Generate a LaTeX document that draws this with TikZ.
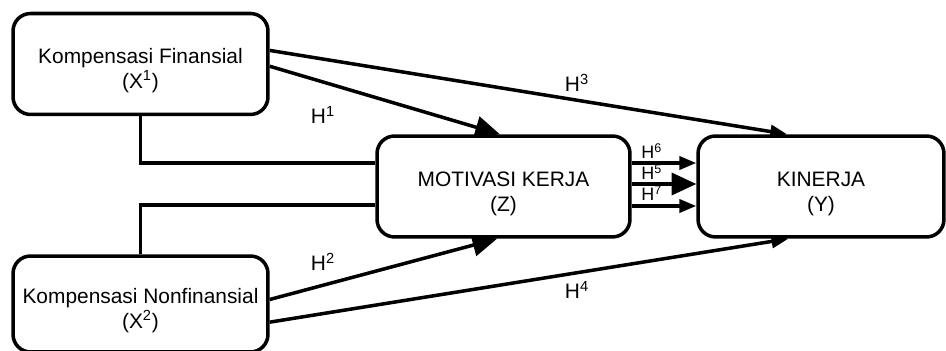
\documentclass[tikz,border=0pt]{standalone}
\usepackage{fontspec}
\setmainfont{Liberation Sans}
\usetikzlibrary{arrows.meta}
\pgfdeclarelayer{bg}
\pgfsetlayers{bg,main}

\tikzset{
  var/.style={draw, line width=2pt, rounded corners=10pt, fill=white, align=center,
    inner sep=0pt, font=\fontsize{11.9}{14.2}\selectfont,
    execute at begin node={\rule{0pt}{1.07cm}}},
  link/.style={line width=2pt, -{Triangle[length=9.6pt,width=7.4pt]}},
  biglink/.style={line width=2pt, -{Triangle[length=14pt,width=12.5pt]}},
  plain/.style={line width=2pt},
  hyp/.style={inner sep=0pt, font=\fontsize{11.9}{14}\selectfont},
  hypsmall/.style={inner sep=0pt, anchor=base west, font=\fontsize{10.2}{12}\selectfont}
}

\begin{document}
\begin{tikzpicture}[x=0.02cm,y=-0.02cm]
\useasboundingbox (0,0) rectangle (946,351);
% variables
\node[var, minimum width=5.1cm, minimum height=2.02cm] (X1) at (140.5,64) {Kompensasi Finansial\\(X\textsuperscript{1})};
\node[var, minimum width=5.1cm, minimum height=1.92cm] (X2) at (140.5,304) {Kompensasi Nonfinansial\\(X\textsuperscript{2})};
\node[var, minimum width=5.06cm, minimum height=2.02cm] (Z) at (503.5,186.5) {MOTIVASI KERJA\\(Z)};
\node[var, minimum width=4.92cm, minimum height=2.02cm] (Y) at (821,186.5) {KINERJA\\(Y)};
% hypotheses
\node[hyp] (h1) at (323,115) {H\textsuperscript{1}};
\node[hyp] (h2) at (323,262) {H\textsuperscript{2}};
\node[hyp] (h3) at (577,83) {H\textsuperscript{3}};
\node[hyp] (h4) at (577,290) {H\textsuperscript{4}};
\node[hypsmall] (h6) at (641,159) {H\textsuperscript{6}};
\node[hypsmall] (h5) at (641,180) {H\textsuperscript{5}};
\node[hypsmall] (h7) at (641,201) {H\textsuperscript{7}};
% paths
\begin{pgfonlayer}{bg}
\draw[link] (X1.6) -- (Y.123);
\draw[biglink] (X1.-1.6) -- (Z.94);
\draw[biglink] (X2.2) -- (Z.263);
\draw[link] (X2.-8.4) -- (Y.238);
\draw[plain] (X1.south) |- ([yshift=0.47cm]Z.west);
\draw[plain] (X2.north) |- ([yshift=-0.37cm]Z.west);
\draw[link] ([yshift=0.47cm]Z.east) -- ([yshift=0.47cm]Y.west);
\draw[biglink] ([yshift=0.05cm]Z.east) -- ([yshift=0.05cm]Y.west);
\draw[link] ([yshift=-0.39cm]Z.east) -- ([yshift=-0.39cm]Y.west);
\end{pgfonlayer}
\end{tikzpicture}
\end{document}
